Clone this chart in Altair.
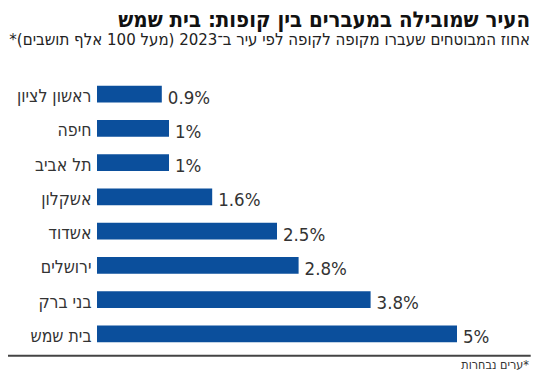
import altair as alt
import pandas as pd

RLM = "\u200F"

cities = ["ראשון לציון", "חיפה", "תל אביב", "אשקלון", "אשדוד", "ירושלים", "בני ברק", "בית שמש"]
values = [0.9, 1, 1, 1.6, 2.5, 2.8, 3.8, 5]
value_labels = ["0.9%", "1%", "1%", "1.6%", "2.5%", "2.8%", "3.8%", "5%"]

title_text = "העיר שמובילה במעברים בין קופות: בית שמש"
subtitle_text = RLM + "אחוז המבוטחים שעברו מקופה לקופה לפי עיר ב\u05BE2023 (מעל 100 אלף תושבים)*" + RLM
footnote_text = RLM + "*ערים נבחרות" + RLM

df = pd.DataFrame({"city": cities, "v": values, "lab": value_labels})

HFONT = "DejaVu Sans Condensed, sans-serif"
BLUE = "#0b4f9c"
TXT = "#333333"

y_enc = alt.Y(
    "city:N",
    sort=cities,
    scale=alt.Scale(paddingInner=0.512, paddingOuter=0.256),
    axis=alt.Axis(
        title=None, domain=False, ticks=False, grid=False,
        labelPadding=6, labelFontSize=17.5, labelFont=HFONT, labelColor=TXT,
        labelBaseline="alphabetic", labelOffset=8, labelLimit=200,
    ),
)
x_enc = alt.X("v:Q", scale=alt.Scale(domain=[0, 5], nice=False, zero=True), axis=None)

base = alt.Chart(df).encode(y=y_enc, x=x_enc)
bars = base.mark_bar(color=BLUE)
vals = base.mark_text(
    align="left", baseline="alphabetic", dx=6, dy=9.5,
    font=HFONT, fontSize=18.5, color=TXT,
).encode(text="lab:N")

title = alt.Chart(pd.DataFrame({"t": [title_text]})).mark_text(
    align="right", baseline="alphabetic", font=HFONT, fontSize=22,
    fontWeight="bold", color="#111111",
).encode(x=alt.value(433), y=alt.value(-50.5), text="t:N")

subtitle = alt.Chart(pd.DataFrame({"t": [subtitle_text]})).mark_text(
    align="right", baseline="alphabetic", font=HFONT, fontSize=16.7, color="#222222",
).encode(x=alt.value(433), y=alt.value(-32), text="t:N")

rule = alt.Chart(pd.DataFrame({"a": [0]})).mark_rule(color="#444444", strokeWidth=2).encode(
    x=alt.value(-92.7), x2=alt.value(433.7), y=alt.value(278.7)
)

foot = alt.Chart(pd.DataFrame({"t": [footnote_text]})).mark_text(
    align="right", baseline="alphabetic", font=HFONT, fontSize=12.5, color=TXT,
).encode(x=alt.value(432), y=alt.value(292), text="t:N")

chart = alt.layer(bars, vals, title, subtitle, rule, foot).properties(
    width=360, height=274,
    background="white",
    autosize=alt.AutoSizeParams(type="none"),
    padding={"left": 89, "top": 69, "right": 85, "bottom": 20},
).configure_view(stroke=None, strokeWidth=0).configure_axis(grid=False)

chart.save("out.html", embed_options={"renderer": "svg", "actions": False})
